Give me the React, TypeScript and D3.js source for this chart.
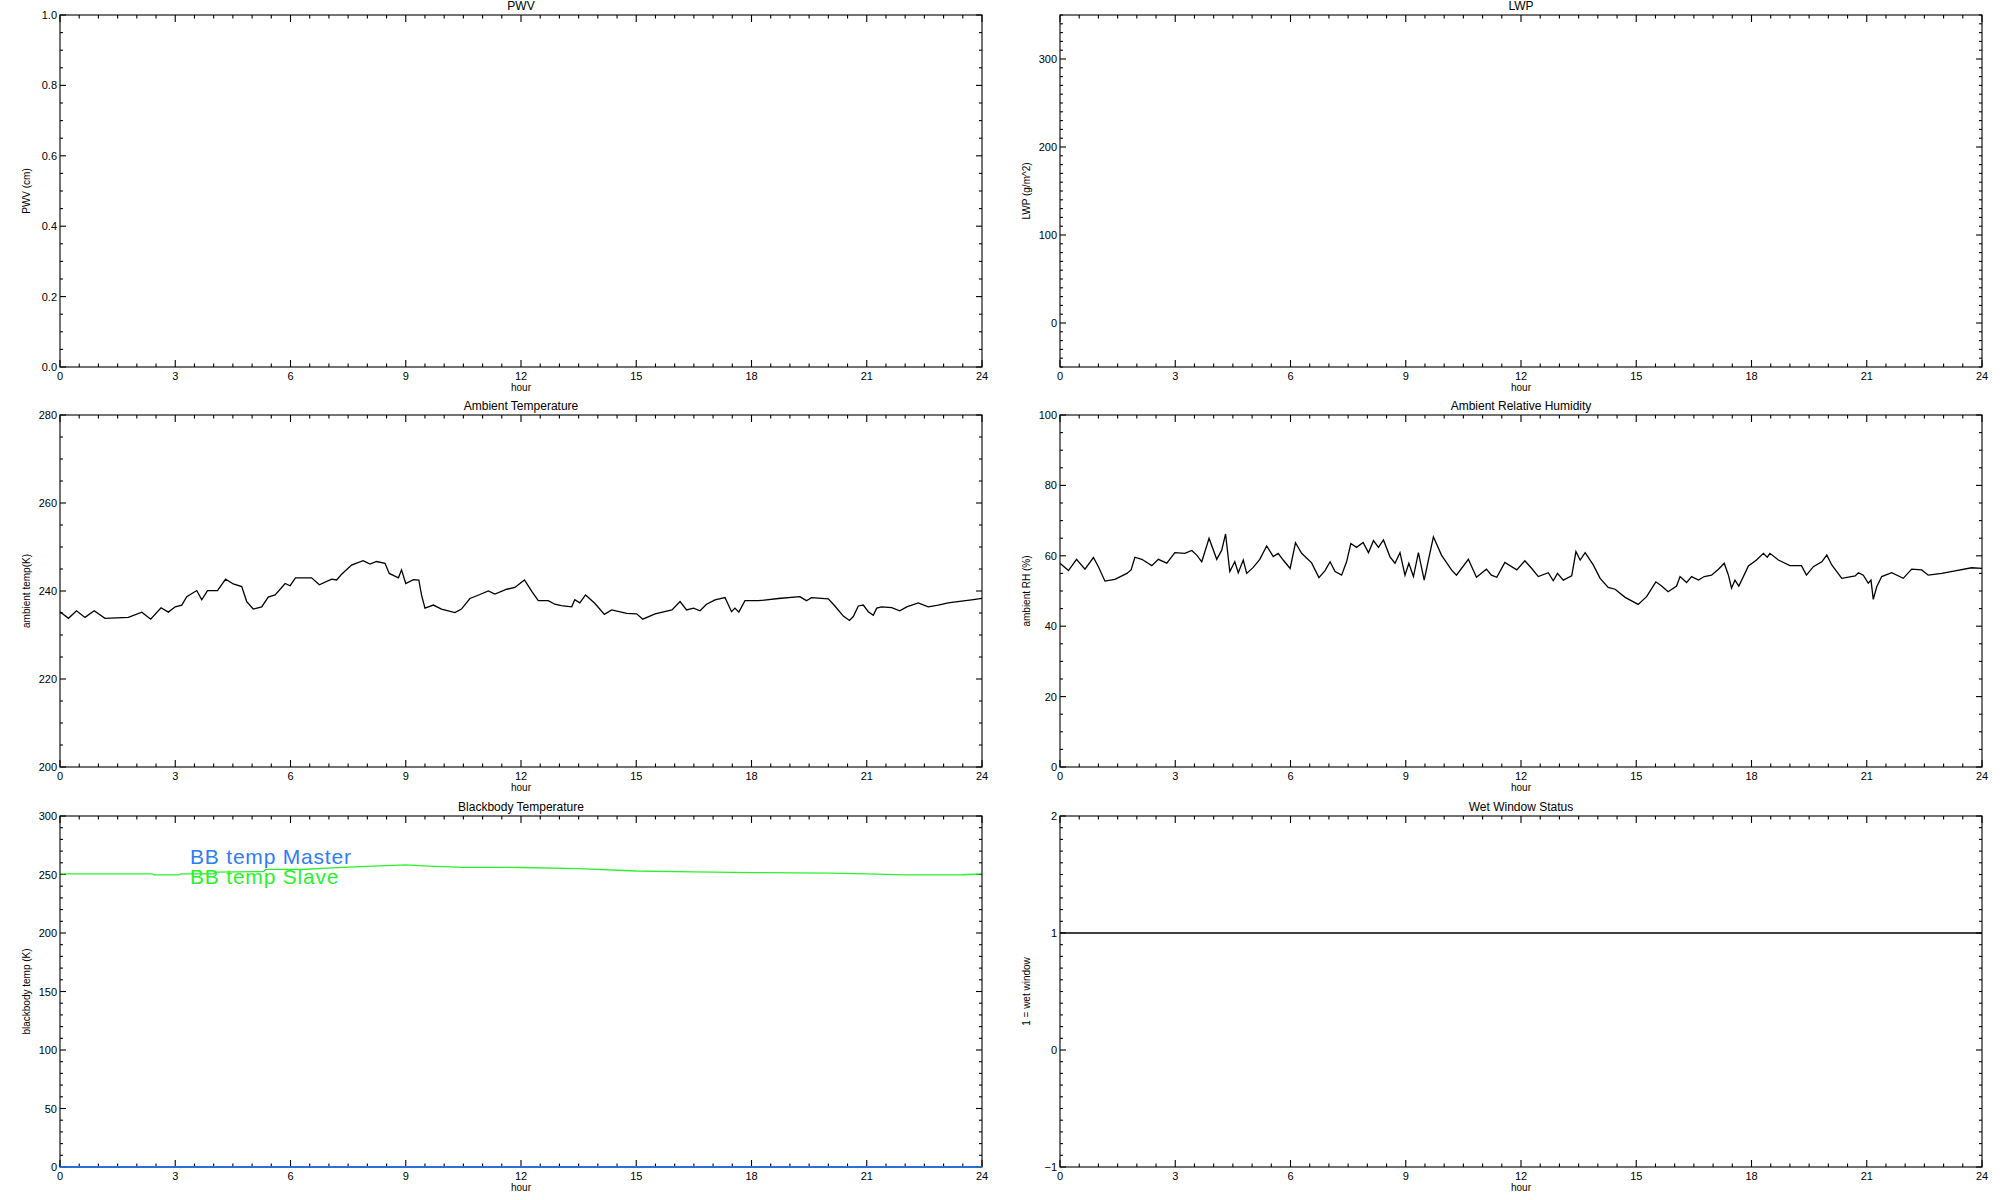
import React from "react";
import * as d3 from "d3";

// ---------- data ----------
const hourTicks = [0, 3, 6, 9, 12, 15, 18, 21, 24];

const pwvTicks = [0, 0.2, 0.4, 0.6, 0.8, 1.0];
const pwvTickLabels = ["0.0", "0.2", "0.4", "0.6", "0.8", "1.0"];

const lwpTicks = [0, 100, 200, 300];
const lwpTickLabels = ["0", "100", "200", "300"];

const tempTicks = [200, 220, 240, 260, 280];
const tempTickLabels = ["200", "220", "240", "260", "280"];

const rhTicks = [0, 20, 40, 60, 80, 100];
const rhTickLabels = ["0", "20", "40", "60", "80", "100"];

const bbTicks = [0, 50, 100, 150, 200, 250, 300];
const bbTickLabels = ["0", "50", "100", "150", "200", "250", "300"];

const wetTicks = [-1, 0, 1, 2];
const wetTickLabels = ["\u22121", "0", "1", "2"];

const ambientTempHours = [0, 0.22, 0.43, 0.65, 0.89, 1.17, 1.78, 2.13, 2.36, 2.63, 2.82, 3.0, 3.17, 3.3, 3.56, 3.69, 3.84, 4.1, 4.31, 4.51, 4.73, 4.86, 5.03, 5.25, 5.42, 5.6, 5.86, 5.99, 6.13, 6.55, 6.75, 7.07, 7.2, 7.33, 7.59, 7.89, 8.07, 8.24, 8.46, 8.57, 8.81, 8.89, 9.0, 9.2, 9.34, 9.41, 9.5, 9.72, 9.93, 10.28, 10.45, 10.67, 10.93, 11.15, 11.32, 11.63, 11.84, 12.09, 12.28, 12.45, 12.71, 12.88, 13.05, 13.32, 13.4, 13.53, 13.68, 13.92, 14.17, 14.36, 14.75, 15.01, 15.17, 15.49, 15.93, 16.14, 16.31, 16.49, 16.66, 16.83, 17.05, 17.31, 17.48, 17.57, 17.67, 17.83, 18.18, 18.7, 19.26, 19.43, 19.56, 20.0, 20.17, 20.39, 20.55, 20.65, 20.78, 20.91, 21.04, 21.17, 21.26, 21.39, 21.65, 21.86, 22.04, 22.34, 22.6, 22.86, 23.12, 23.47, 23.73, 24.0];
const ambientTempValues = [235.3, 233.8, 235.5, 234.0, 235.5, 233.8, 234.0, 235.2, 233.6, 236.2, 235.2, 236.4, 236.8, 238.7, 240.1, 238.0, 240.1, 240.1, 242.7, 241.6, 241.0, 237.6, 235.9, 236.4, 238.6, 239.1, 241.7, 241.2, 243.0, 243.0, 241.4, 242.7, 242.5, 243.8, 245.9, 246.9, 246.1, 246.7, 246.3, 244.0, 243.0, 244.8, 241.7, 242.6, 242.5, 239.1, 236.1, 236.8, 235.9, 235.1, 235.9, 238.3, 239.2, 240.0, 239.3, 240.4, 240.8, 242.5, 239.9, 237.8, 237.8, 237.0, 236.7, 236.4, 238.0, 237.3, 239.1, 237.2, 234.7, 235.7, 234.9, 234.8, 233.6, 234.8, 235.7, 237.6, 235.7, 236.1, 235.5, 237.0, 238.0, 238.5, 235.3, 236.1, 235.2, 237.8, 237.8, 238.3, 238.7, 237.8, 238.5, 238.2, 236.6, 234.3, 233.3, 234.2, 236.6, 236.8, 235.3, 234.5, 236.1, 236.4, 236.2, 235.5, 236.4, 237.3, 236.4, 236.8, 237.3, 237.7, 238.0, 238.3];

const rhHours = [0, 0.22, 0.43, 0.65, 0.87, 1.0, 1.17, 1.43, 1.74, 1.85, 1.95, 2.13, 2.39, 2.56, 2.78, 2.99, 3.25, 3.43, 3.56, 3.69, 3.88, 4.08, 4.21, 4.31, 4.42, 4.55, 4.64, 4.77, 4.86, 5.03, 5.2, 5.38, 5.55, 5.68, 5.81, 5.99, 6.13, 6.29, 6.55, 6.74, 6.9, 7.03, 7.16, 7.33, 7.46, 7.57, 7.72, 7.89, 8.03, 8.16, 8.29, 8.42, 8.59, 8.72, 8.85, 8.98, 9.08, 9.2, 9.33, 9.48, 9.59, 9.72, 9.93, 10.19, 10.32, 10.63, 10.84, 11.1, 11.23, 11.37, 11.58, 11.89, 12.1, 12.28, 12.45, 12.71, 12.84, 12.95, 13.1, 13.32, 13.43, 13.54, 13.67, 13.88, 14.06, 14.27, 14.45, 14.71, 15.05, 15.27, 15.51, 15.66, 15.83, 16.05, 16.14, 16.31, 16.44, 16.62, 16.77, 16.96, 17.14, 17.29, 17.4, 17.48, 17.57, 17.67, 17.92, 18.13, 18.31, 18.41, 18.48, 18.7, 19.0, 19.3, 19.43, 19.61, 19.83, 19.96, 20.09, 20.35, 20.7, 20.78, 20.91, 21.04, 21.11, 21.17, 21.26, 21.39, 21.65, 21.95, 22.17, 22.43, 22.6, 22.95, 23.3, 23.73, 24.0];
const rhValues = [57.9, 55.8, 59.0, 56.2, 59.5, 56.9, 52.8, 53.3, 55.0, 56.0, 59.6, 59.0, 57.2, 59.0, 57.9, 60.9, 60.7, 61.5, 60.2, 58.3, 65.0, 59.0, 61.6, 66.2, 55.5, 58.3, 55.2, 58.8, 55.0, 56.7, 59.0, 62.8, 59.8, 60.7, 58.8, 56.4, 63.7, 60.7, 58.0, 53.8, 55.8, 58.3, 55.5, 54.5, 58.3, 63.5, 62.4, 63.8, 60.9, 64.3, 62.4, 64.5, 59.7, 57.9, 60.9, 54.5, 57.9, 54.1, 60.9, 53.1, 58.8, 65.4, 60.2, 56.0, 54.5, 59.0, 53.9, 56.2, 54.5, 53.9, 58.1, 56.0, 58.6, 56.4, 54.1, 55.2, 52.9, 55.0, 53.1, 54.3, 61.2, 58.8, 60.9, 57.4, 53.6, 51.0, 50.5, 48.2, 46.2, 48.4, 52.6, 51.4, 49.8, 51.4, 54.1, 52.4, 54.1, 53.1, 54.1, 54.5, 56.2, 57.9, 54.5, 50.8, 53.1, 51.4, 57.1, 58.8, 60.7, 59.6, 60.7, 58.8, 57.2, 57.2, 54.5, 56.9, 58.3, 60.2, 57.4, 53.6, 54.3, 55.2, 54.5, 52.2, 53.1, 47.6, 51.2, 54.1, 55.2, 53.6, 56.2, 56.0, 54.5, 55.0, 55.7, 56.6, 56.4];

const bbSlaveHours = [0, 2.4, 2.45, 3.1, 3.15, 4.0, 4.05, 5.3, 5.35, 6.4, 7.1, 7.8, 8.5, 9.0, 9.6, 10.5, 12.0, 13.5, 15.0, 16.5, 18.0, 20.0, 21.0, 22.0, 23.5, 24.0];
const bbSlaveValues = [250.6, 250.6, 249.7, 249.7, 250.6, 250.6, 252.0, 252.5, 254.3, 254.5, 255.7, 256.8, 257.5, 258.2, 257.2, 256.1, 256.0, 255.0, 253.0, 252.2, 251.6, 251.2, 250.6, 249.6, 249.8, 250.6];

const bbMasterHours = [0, 24];
const bbMasterValues = [0, 0];

const wetHours = [0, 24];
const wetValues = [1, 1];

// ---------- layout ----------
const COLS = [[60, 982], [1060, 1982]];
const ROWS = [[15, 367], [415, 767], [816, 1167]];
const FONT = "'Liberation Sans', Arial, sans-serif";
const BLUE = "#2f7df5";
const GREEN = "#2af22a";

type Series = { hours: number[]; values: number[]; color: string; width?: number };

type PanelProps = {
  col: number;
  row: number;
  title: string;
  ylabel: string;
  domain: [number, number];
  ticks: number[];
  tickLabels: string[];
  minorStep: number;
  series: Series[];
  legend?: { text: string; color: string }[];
};

function Panel(p: PanelProps) {
  const [x0, x1] = COLS[p.col];
  const [y0, y1] = ROWS[p.row];
  const x = d3.scaleLinear().domain([0, 24]).range([x0, x1]);
  const y = d3.scaleLinear().domain(p.domain).range([y1, y0]);
  const xMinor = d3.range(0, 24.0001, 0.5);
  const nMinor = Math.round((p.domain[1] - p.domain[0]) / p.minorStep);
  const yMinor = d3.range(0, nMinor + 1).map((i) => p.domain[0] + i * p.minorStep);
  const cx = (x0 + x1) / 2;
  const cy = (y0 + y1) / 2;
  const MAJ = 7;
  const MIN = 3.5;
  const sw = 1.1;
  return (
    <g>
      <text x={cx} y={y0 - 5} textAnchor="middle" fontSize={12} fontFamily={FONT}>
        {p.title}
      </text>
      {xMinor.map((h, i) => {
        const isMaj = Math.abs(h / 3 - Math.round(h / 3)) < 1e-6;
        const L = isMaj ? MAJ : MIN;
        return (
          <g key={"xm" + i}>
            <line x1={x(h)} x2={x(h)} y1={y1} y2={y1 - L} stroke="#000" strokeWidth={sw} />
            <line x1={x(h)} x2={x(h)} y1={y0} y2={y0 + L} stroke="#000" strokeWidth={sw} />
          </g>
        );
      })}
      {yMinor.map((v, i) => {
        const isMaj = p.ticks.some((t) => Math.abs(t - v) < 1e-6);
        const L = isMaj ? MAJ - 1 : MIN - 0.5;
        return (
          <g key={"ym" + i}>
            <line x1={x0} x2={x0 + L} y1={y(v)} y2={y(v)} stroke="#000" strokeWidth={sw} />
            <line x1={x1} x2={x1 - L} y1={y(v)} y2={y(v)} stroke="#000" strokeWidth={sw} />
          </g>
        );
      })}
      {hourTicks.map((h) => (
        <text key={"xl" + h} x={x(h)} y={y1 + 13} textAnchor="middle" fontSize={11} fontFamily={FONT}>
          {String(h)}
        </text>
      ))}
      <text x={cx} y={y1 + 24} textAnchor="middle" fontSize={10} fontFamily={FONT}>
        hour
      </text>
      {p.ticks.map((t, i) => (
        <text key={"yl" + i} x={x0 - 3} y={y(t) + 4} textAnchor="end" fontSize={11} fontFamily={FONT}>
          {p.tickLabels[i]}
        </text>
      ))}
      <text
        transform={`translate(${x0 - 30},${cy}) rotate(-90)`}
        textAnchor="middle"
        fontSize={10}
        fontFamily={FONT}
      >
        {p.ylabel}
      </text>
      {p.series.map((s, si) => {
        const pts: [number, number][] = s.hours.map((h, i) => [x(h), y(s.values[i])]);
        const path = d3.line()(pts) || "";
        return <path key={"s" + si} d={path} fill="none" stroke={s.color} strokeWidth={s.width ?? 1.3} />;
      })}
      <rect x={x0} y={y0} width={x1 - x0} height={y1 - y0} fill="none" stroke="#000" strokeWidth={sw} />
      {p.series
        .filter((s) => s.color !== "#000")
        .filter((s) => s.values.every((v) => v === p.domain[0]))
        .map((s, si) => (
          <line key={"ov" + si} x1={x0} x2={x1} y1={y1} y2={y1} stroke={s.color} strokeWidth={1.3} />
        ))}
      {p.legend &&
        p.legend.map((l, i) => (
          <text
            key={"lg" + i}
            x={x0 + 130}
            y={y0 + 48 + i * 20}
            fontSize={21}
            letterSpacing={0.8}
            fontFamily={FONT}
            fill={l.color}
          >
            {l.text}
          </text>
        ))}
    </g>
  );
}

export default function App() {
  return (
    <svg
      width={2000}
      height={1200}
      style={{ position: "fixed", left: 0, top: 0, background: "#fff" }}
      xmlns="http://www.w3.org/2000/svg"
    >
      <rect x={0} y={0} width={2000} height={1200} fill="#fff" />
      <Panel col={0} row={0} title="PWV" ylabel="PWV (cm)" domain={[0, 1]} ticks={pwvTicks} tickLabels={pwvTickLabels} minorStep={0.05} series={[]} />
      <Panel col={1} row={0} title="LWP" ylabel="LWP (g/m^2)" domain={[-50, 350]} ticks={lwpTicks} tickLabels={lwpTickLabels} minorStep={10} series={[]} />
      <Panel
        col={0}
        row={1}
        title="Ambient Temperature"
        ylabel="ambient temp(K)"
        domain={[200, 280]}
        ticks={tempTicks}
        tickLabels={tempTickLabels}
        minorStep={5}
        series={[{ hours: ambientTempHours, values: ambientTempValues, color: "#000" }]}
      />
      <Panel
        col={1}
        row={1}
        title="Ambient Relative Humidity"
        ylabel="ambient RH (%)"
        domain={[0, 100]}
        ticks={rhTicks}
        tickLabels={rhTickLabels}
        minorStep={5}
        series={[{ hours: rhHours, values: rhValues, color: "#000" }]}
      />
      <Panel
        col={0}
        row={2}
        title="Blackbody Temperature"
        ylabel="blackbody temp (K)"
        domain={[0, 300]}
        ticks={bbTicks}
        tickLabels={bbTickLabels}
        minorStep={10}
        series={[
          { hours: bbMasterHours, values: bbMasterValues, color: BLUE },
          { hours: bbSlaveHours, values: bbSlaveValues, color: GREEN },
        ]}
        legend={[
          { text: "BB temp Master", color: BLUE },
          { text: "BB temp Slave", color: GREEN },
        ]}
      />
      <Panel
        col={1}
        row={2}
        title="Wet Window Status"
        ylabel="1 = wet window"
        domain={[-1, 2]}
        ticks={wetTicks}
        tickLabels={wetTickLabels}
        minorStep={0.1}
        series={[{ hours: wetHours, values: wetValues, color: "#000" }]}
      />
    </svg>
  );
}
